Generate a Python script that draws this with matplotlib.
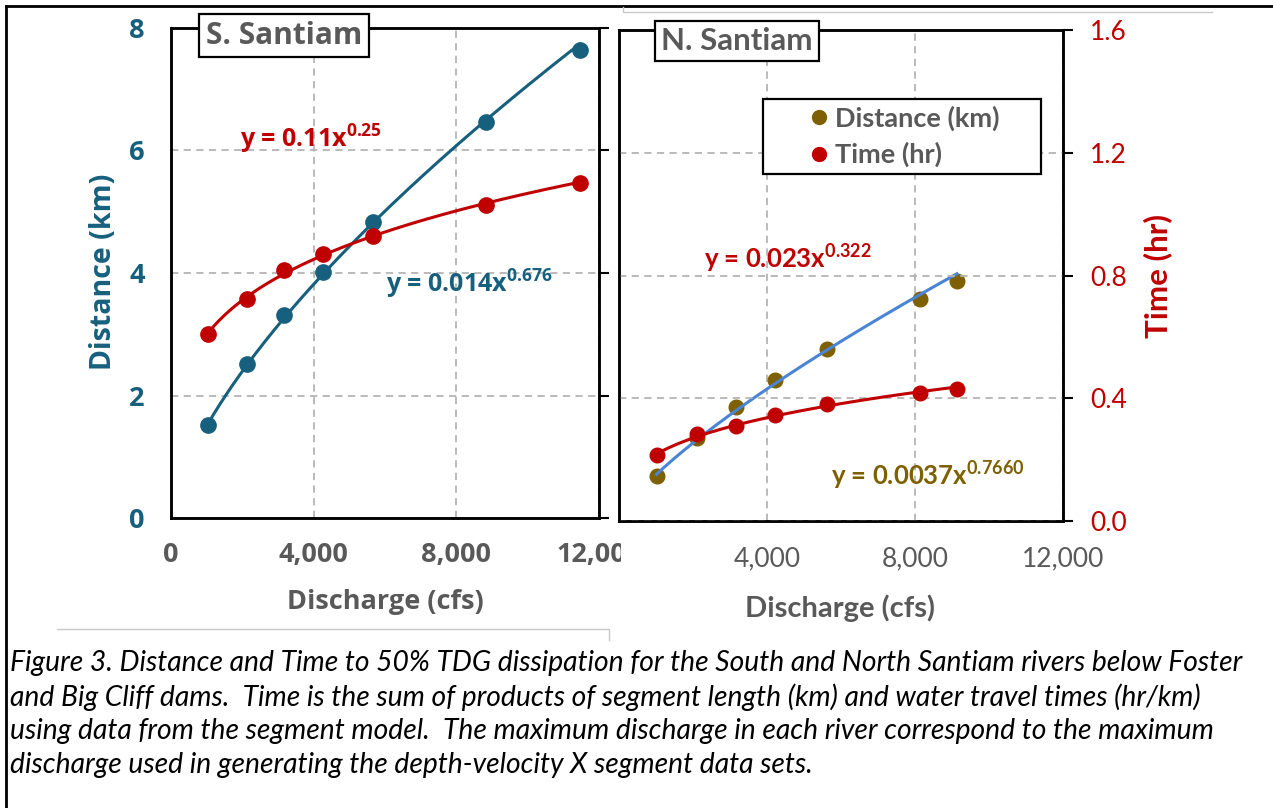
import matplotlib
matplotlib.use('Agg')
import matplotlib.pyplot as plt
import numpy as np
from matplotlib.patches import Rectangle
from matplotlib.lines import Line2D

plt.rcParams['mathtext.default'] = 'regular'

# ---- data ----
s_q = [1037, 2131, 3168, 4275, 5650, 8820, 11459]          # cfs
s_dist = [1.52, 2.52, 3.31, 4.01, 4.84, 6.47, 7.64]        # km
s_time = [0.603, 0.716, 0.809, 0.863, 0.922, 1.021, 1.094] # hr

n_q = [1026, 2111, 3172, 4222, 5637, 8137, 9130]
n_dist = [0.731, 1.355, 1.867, 2.306, 2.804, 3.615, 3.914]
n_time = [0.214, 0.283, 0.311, 0.347, 0.380, 0.417, 0.431]

x_ticks = [0, 4000, 8000, 12000]
x_ticklabels = ['0', '4,000', '8,000', '12,000']
dist_ticks = [0, 2, 4, 6, 8]
time_ticks = [0.0, 0.4, 0.8, 1.2, 1.6]

caption = ("Figure 3. Distance and Time to 50% TDG dissipation for the South and North Santiam rivers below Foster\n"
           "and Big Cliff dams.  Time is the sum of products of segment length (km) and water travel times (hr/km)\n"
           "using data from the segment model.  The maximum discharge in each river correspond to the maximum\n"
           "discharge used in generating the depth-velocity X segment data sets.")

teal = '#17607D'
red = '#C00000'
olive = '#7F6000'
blue = '#4A84D6'
gray = '#595959'
gridc = '#B4B4B4'

W, H = 1273, 808
fig = plt.figure(figsize=(W / 100, H / 100), dpi=100)


def px(x0, y_top, x1, y_bot):
    return [x0 / W, 1 - y_bot / H, (x1 - x0) / W, (y_bot - y_top) / H]


def powerfit(x, y):
    b, a = np.polyfit(np.log(x), np.log(y), 1)
    xx = np.linspace(min(x), max(x), 200)
    return xx, np.exp(a) * xx ** b


def style(ax):
    for sp in ax.spines.values():
        sp.set_linewidth(1.8)
        sp.set_color('black')


# ---------------- South Santiam ----------------
sf = 'Open Sans'
ax1 = fig.add_axes(px(171, 27.8, 599, 518.4))
ax1.set_zorder(0)
ax1.set_xlim(0, 12000)
ax1.set_ylim(0, 8)
ax1.set_xticks(x_ticks)
ax1.set_xticklabels(x_ticklabels)
ax1.set_yticks(dist_ticks)
ax1.tick_params(axis='y', length=0, pad=19, labelsize=19.5, labelcolor=teal)
ax1.tick_params(axis='x', length=0, pad=17, labelsize=19.5, labelcolor=gray)
for lab in ax1.get_xticklabels() + ax1.get_yticklabels():
    lab.set_fontfamily(sf)
    lab.set_fontweight('bold')
ax1.grid(True, ls=(0, (4, 3)), color=gridc, lw=1.3)
style(ax1)
ax1.set_ylabel('Distance (km)', fontsize=20.5, fontweight='bold', color=teal,
               family=sf, va='center', ha='center')
ax1.yaxis.set_label_coords(-0.157, 0.502)
ax1.set_xlabel('Discharge (cfs)', fontsize=19.5, fontweight='bold', color=gray,
               family=sf, va='center', ha='center')
ax1.xaxis.set_label_coords(0.5, -0.170)

ax1t = ax1.twinx()
ax1t.set_ylim(0, 1.6)
ax1t.set_yticks(time_ticks)
ax1t.tick_params(axis='y', direction='out', length=7, width=1.5, labelright=False)
style(ax1t)

xx, yy = powerfit(s_q, s_dist)
ax1.plot(xx, yy, color=teal, lw=2.2, zorder=3)
ax1.plot(s_q, s_dist, 'o', color=teal, ms=11, zorder=4)
xx, yy = powerfit(s_q, s_time)
ax1t.plot(xx, yy, color=red, lw=2.2, zorder=3)
ax1t.plot(s_q, s_time, 'o', color=red, ms=11, zorder=4)

fig.text(284 / W, 1 - 35.7 / H, 'S. Santiam', family=sf, fontweight='bold', fontsize=21.5,
         color=gray, ha='center', va='center',
         bbox=dict(boxstyle='square,pad=0.22', fc='white', ec='black', lw=1.6))
fig.text(240 / W, 1 - 139 / H, 'y = 0.11x$^{0.25}$', family=sf, fontweight='bold',
         fontsize=18, color=red, ha='left', va='center')
fig.text(386 / W, 1 - 284 / H, 'y = 0.014x$^{0.676}$', family=sf, fontweight='bold',
         fontsize=18, color=teal, ha='left', va='center')

# hide the part of "12,000" that runs into the second picture
fig.patches.append(Rectangle((621 / W, 1 - 600 / H), (W - 621) / W, 70 / H,
                             transform=fig.transFigure, fc='white', ec='none', zorder=0.5))

# ---------------- North Santiam ----------------
nf = 'Lato'
ax2 = fig.add_axes(px(618.5, 29.8, 1063.3, 521.2))
ax2.set_zorder(1)
ax2.set_xlim(0, 12000)
ax2.set_ylim(0, 8)
ax2.set_xticks(x_ticks)
ax2.set_xticklabels([''] + x_ticklabels[1:])
ax2.tick_params(axis='x', length=0, pad=18, labelsize=19, labelcolor=gray)
ax2.tick_params(axis='y', length=0, labelleft=False)
for lab in ax2.get_xticklabels():
    lab.set_fontfamily(nf)
ax2.grid(True, axis='x', ls=(0, (4, 3)), color=gridc, lw=1.3)
style(ax2)
ax2.set_xlabel('Discharge (cfs)', fontsize=21, fontweight='bold', color=gray,
               family=nf, va='center', ha='center')
ax2.xaxis.set_label_coords(0.498, -0.177)

ax2t = ax2.twinx()
ax2t.set_zorder(1.1)
ax2t.set_ylim(0, 1.6)
ax2t.set_yticks(time_ticks)
ax2t.set_yticklabels(['%.1f' % t for t in time_ticks])
ax2t.tick_params(axis='y', direction='out', length=7, width=1.5, pad=12.5,
                 labelsize=19, labelcolor=red)
for lab in ax2t.get_yticklabels():
    lab.set_fontfamily(nf)
ax2t.grid(True, axis='y', ls=(0, (4, 3)), color=gridc, lw=1.3)
style(ax2t)
ax2t.set_ylabel('Time (hr)', fontsize=22.5, fontweight='bold', color=red, family=nf,
                va='center', ha='center')
ax2t.yaxis.set_label_coords(1.213, 0.498)

xx, yy = powerfit(n_q, n_dist)
ax2.plot(xx, yy, color=blue, lw=2.2, zorder=3)
ax2.plot(n_q, n_dist, 'o', color=olive, ms=10.5, zorder=2.5)
xx, yy = powerfit(n_q, n_time)
ax2t.plot(xx, yy, color=red, lw=2.2, zorder=3)
ax2t.plot(n_q, n_time, 'o', color=red, ms=10.5, zorder=4)

fig.text(737 / W, 1 - 40.8 / H, 'N. Santiam', family=nf, fontweight='bold', fontsize=22.5,
         color=gray, ha='center', va='center', zorder=5,
         bbox=dict(boxstyle='square,pad=0.2', fc='white', ec='black', lw=1.6))
fig.text(704 / W, 1 - 259 / H, 'y = 0.023x$^{0.322}$', family=nf, fontweight='bold',
         fontsize=18.5, color=red, ha='left', va='center')
fig.text(831 / W, 1 - 475.5 / H, 'y = 0.0037x$^{0.7660}$', family=nf, fontweight='bold',
         fontsize=18.5, color=olive, ha='left', va='center')

handles = [Line2D([], [], ls='none', marker='o', color=olive, ms=10),
           Line2D([], [], ls='none', marker='o', color=red, ms=10)]
leg = ax2t.legend(handles, ['Distance (km)', 'Time (hr)'], loc='upper left',
                  bbox_to_anchor=(763 / W, 1 - 180 / H, 278 / W, 81 / H),
                  bbox_transform=fig.transFigure, mode='expand',
                  fancybox=False, framealpha=1, edgecolor='black',
                  prop={'family': nf, 'size': 19.5, 'weight': 'bold'},
                  handlelength=3.65, handletextpad=-1.24, borderpad=0.25,
                  labelspacing=0.4, borderaxespad=0)
leg.get_frame().set_linewidth(1.6)
for t in leg.get_texts():
    t.set_color(gray)

# ---------------- frame lines and caption ----------------
fig.add_artist(Line2D([6 / W, 1], [1 - 6 / H, 1 - 6 / H], transform=fig.transFigure,
                      color='black', lw=2))
fig.add_artist(Line2D([6 / W, 6 / W], [0, 1 - 6 / H], transform=fig.transFigure,
                      color='black', lw=2))
fig.add_artist(Line2D([57 / W, 609 / W, 609 / W], [1 - 628.5 / H, 1 - 628.5 / H, 1 - 640 / H],
                      transform=fig.transFigure, color='#C8C8C8', lw=1))
fig.add_artist(Line2D([623 / W, 623 / W, 1212 / W], [1 - 7 / H, 1 - 12 / H, 1 - 12 / H],
                      transform=fig.transFigure, color='#C8C8C8', lw=1))

fig.text(10 / W, 1 - 650 / H, caption, family=nf, style='italic', fontsize=20.3,
         color='black', ha='left', va='top', linespacing=1.34)

fig.savefig('out.png', dpi=100)
